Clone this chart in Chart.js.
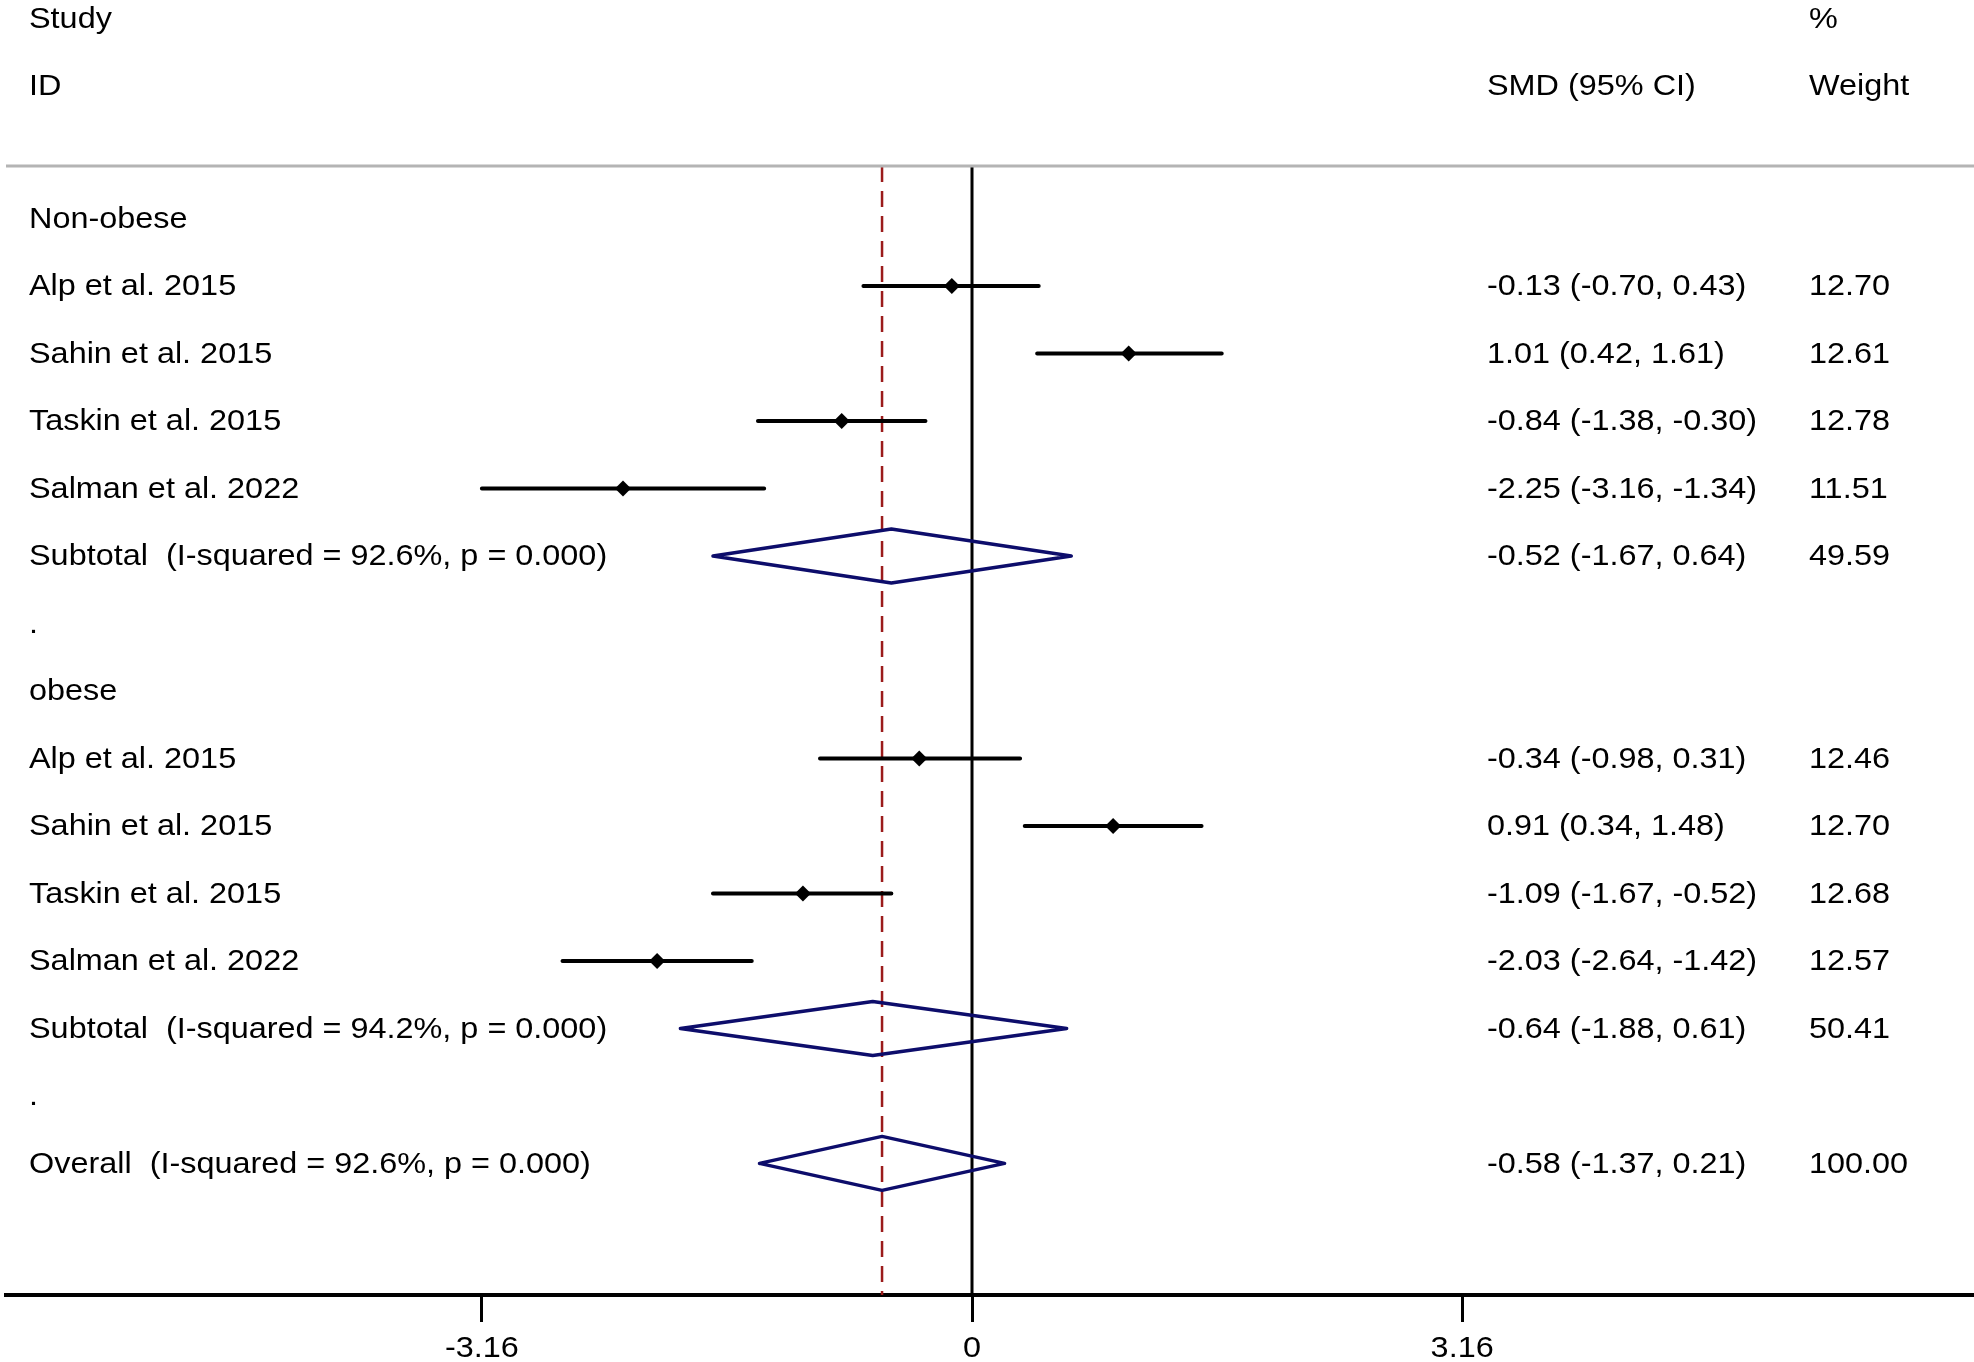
<!DOCTYPE html>
<html>
<head>
<meta charset="utf-8">
<script src="https://cdn.jsdelivr.net/npm/chart.js@4"></script>
<style>
  html, body { margin: 0; padding: 0; background: #fff; }
  canvas { display: block; }
</style>
</head>
<body>
<canvas id="forest" width="1974" height="1362"></canvas>
<script>
// Forest plot - SMD by obesity subgroup
const groupNames = ['Non-obese', 'obese'];
const studyNames = ['Alp et al. 2015', 'Sahin et al. 2015', 'Taskin et al. 2015', 'Salman et al. 2022'];

const est_1 = [-0.13, 1.01, -0.84, -2.25];
const lo_1  = [-0.70, 0.42, -1.38, -3.16];
const hi_1  = [0.43, 1.61, -0.30, -1.34];
const wt_1  = [12.70, 12.61, 12.78, 11.51];

const est_2 = [-0.34, 0.91, -1.09, -2.03];
const lo_2  = [-0.98, 0.34, -1.67, -2.64];
const hi_2  = [0.31, 1.48, -0.52, -1.42];
const wt_2  = [12.46, 12.70, 12.68, 12.57];

// subtotal 1, subtotal 2, overall
const poolEst = [-0.52, -0.64, -0.58];
const poolLo  = [-1.67, -1.88, -1.37];
const poolHi  = [0.64, 0.61, 0.21];
const poolWt  = [49.59, 50.41, 100.00];
const poolI2  = ['92.6', '94.2', '92.6'];
const poolP   = ['0.000', '0.000', '0.000'];

const tickValues = [-3.16, 0, 3.16];
const tickLabels = ['-3.16', '0', '3.16'];

// ---- rows ----
const rows = []; // {label, kind, est, lo, hi, wt}
function addGroup(g, est, lo, hi, wt) {
  rows.push({ label: groupNames[g], kind: 'head' });
  for (let i = 0; i < studyNames.length; i++) {
    rows.push({ label: studyNames[i], kind: 'study', est: est[i], lo: lo[i], hi: hi[i], wt: wt[i] });
  }
  rows.push({ label: 'Subtotal  (I-squared = ' + poolI2[g] + '%, p = ' + poolP[g] + ')', kind: 'pool',
    est: poolEst[g], lo: poolLo[g], hi: poolHi[g], wt: poolWt[g] });
  rows.push({ label: '.', kind: 'gap' });
}
addGroup(0, est_1, lo_1, hi_1, wt_1);
addGroup(1, est_2, lo_2, hi_2, wt_2);
rows.push({ label: 'Overall  (I-squared = ' + poolI2[2] + '%, p = ' + poolP[2] + ')', kind: 'pool',
  est: poolEst[2], lo: poolLo[2], hi: poolHi[2], wt: poolWt[2] });

const yMin = -0.78, yMax = 15.95;
const dh = 0.4; // diamond half height (rows)
const GAP = { x: NaN, y: NaN };

const ciData = [], ptData = [], diaData = [];
rows.forEach((r, i) => {
  if (r.kind === 'study') {
    ciData.push({ x: r.lo, y: i }, { x: r.hi, y: i }, GAP);
    ptData.push({ x: r.est, y: i });
  } else if (r.kind === 'pool') {
    diaData.push({ x: r.lo, y: i }, { x: r.est, y: i - dh }, { x: r.hi, y: i },
                 { x: r.est, y: i + dh }, { x: r.lo, y: i }, GAP);
  }
});
const overallEst = poolEst[2];

const fmt = v => v.toFixed(2);
const FAMILY = '"Liberation Sans", Arial, sans-serif';
const FONT = '30px ' + FAMILY;
const STRETCH = 1.08; // text in the original is a bit wide

function putText(ctx, str, x, y) {
  ctx.save();
  ctx.translate(x, y);
  ctx.scale(STRETCH, 1);
  ctx.fillText(str, 0, 0);
  ctx.restore();
}

const tablePlugin = {
  id: 'table',
  afterDraw(chart) {
    const ctx = chart.ctx;
    const ys = chart.scales.y;
    const xs = chart.scales.x;
    ctx.save();
    ctx.fillStyle = '#000';
    ctx.font = FONT;
    ctx.textAlign = 'left';
    ctx.textBaseline = 'alphabetic';
    // header
    putText(ctx, 'Study', 29, 28);
    putText(ctx, 'ID', 29, 95);
    putText(ctx, '%', 1809, 28);
    putText(ctx, 'SMD (95% CI)', 1487, 95);
    putText(ctx, 'Weight', 1809, 95);
    // header rule
    ctx.strokeStyle = '#b4b4b4';
    ctx.lineWidth = 3;
    ctx.beginPath();
    ctx.moveTo(6, 166);
    ctx.lineTo(1974, 166);
    ctx.stroke();
    // rows
    ctx.textBaseline = 'middle';
    rows.forEach((r, i) => {
      const y = ys.getPixelForValue(i) + 1;
      putText(ctx, r.label, 29, y);
      if (r.kind === 'study' || r.kind === 'pool') {
        putText(ctx, fmt(r.est) + ' (' + fmt(r.lo) + ', ' + fmt(r.hi) + ')', 1487, y);
        putText(ctx, fmt(r.wt), 1809, y);
      }
    });
    // x tick labels
    ctx.textAlign = 'center';
    tickValues.forEach((v, i) => {
      putText(ctx, tickLabels[i], xs.getPixelForValue(v), chart.chartArea.bottom + 54);
    });
    ctx.restore();
  }
};

const ctx = document.getElementById('forest');
const myChart = new Chart(ctx, {
  type: 'scatter',
  data: {
    datasets: [
      {
        label: 'overall line',
        data: [{ x: overallEst, y: yMin }, { x: overallEst, y: yMax }],
        showLine: true,
        borderColor: '#9b1b1b',
        borderWidth: 2.5,
        borderDash: [16, 9],
        pointRadius: 0,
        order: 4
      },
      {
        label: 'null line',
        data: [{ x: 0, y: yMin }, { x: 0, y: yMax }],
        showLine: true,
        borderColor: '#000',
        borderWidth: 3,
        pointRadius: 0,
        order: 3
      },
      {
        label: 'CI',
        data: ciData,
        showLine: true,
        spanGaps: false,
        borderColor: '#000',
        borderWidth: 4,
        borderCapStyle: 'round',
        pointRadius: 0,
        order: 2
      },
      {
        label: 'estimate',
        data: ptData,
        pointStyle: 'rectRot',
        pointRadius: 8,
        backgroundColor: '#000',
        borderColor: '#000',
        borderWidth: 0,
        order: 1
      },
      {
        label: 'pooled',
        data: diaData,
        showLine: true,
        spanGaps: false,
        borderColor: '#0d0d6b',
        borderWidth: 3.5,
        borderJoinStyle: 'round',
        borderCapStyle: 'round',
        pointRadius: 0,
        order: 0
      }
    ]
  },
  options: {
    responsive: false,
    animation: false,
    events: [],
    layout: { autoPadding: false, padding: { left: 6, right: 0, top: 166, bottom: 40 } },
    plugins: {
      legend: { display: false },
      tooltip: { enabled: false }
    },
    scales: {
      x: {
        type: 'linear',
        min: -6.228,
        max: 6.46,
        afterBuildTicks: axis => { axis.ticks = tickValues.map(v => ({ value: v })); },
        ticks: { display: false },
        grid: {
          drawOnChartArea: false,
          drawTicks: true,
          tickLength: 27,
          tickColor: '#000',
          tickWidth: 3
        },
        border: { display: true, color: '#000', width: 4 }
      },
      y: {
        type: 'linear',
        display: false,
        reverse: true,
        min: yMin,
        max: yMax
      }
    }
  },
  plugins: [tablePlugin]
});
</script>
</body>
</html>
